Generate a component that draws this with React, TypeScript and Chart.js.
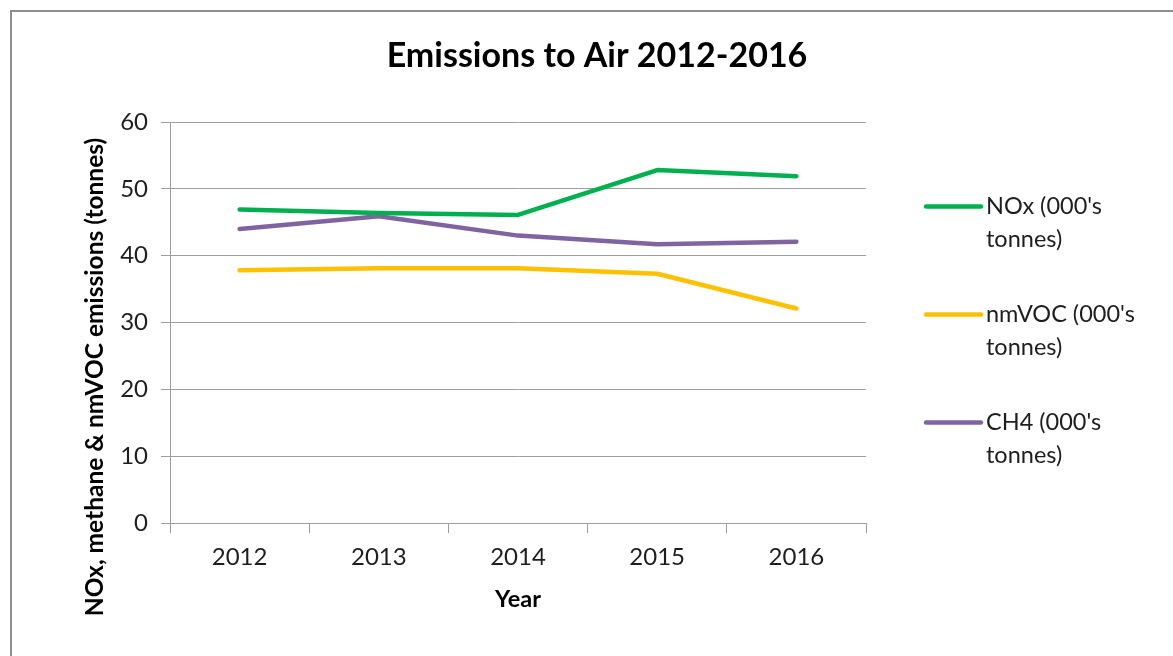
import { useEffect, useRef } from "react";
import { Chart, registerables } from "chart.js";

Chart.register(...registerables);

// Chart content
const chartTitle = "Emissions to Air 2012-2016";
const yAxisTitle = "NOx, methane & nmVOC emissions (tonnes)";
const xAxisTitle = "Year";

const years = ["2012", "2013", "2014", "2015", "2016"];
const noxValues = [46.9, 46.4, 46.1, 52.8, 51.9];
const nmvocValues = [37.8, 38.1, 38.1, 37.3, 32.1];
const ch4Values = [44.0, 45.9, 43.0, 41.7, 42.1];

const seriesLabels = [
  ["NOx (000's", "tonnes)"],
  ["nmVOC (000's", "tonnes)"],
  ["CH4 (000's", "tonnes)"],
];
const seriesColors = ["#00b050", "#ffc000", "#8064a2"];
const yTicks = [0, 10, 20, 30, 40, 50, 60];

const FONT = "Lato, Calibri, Carlito, 'Open Sans', sans-serif";
const GRID = "#9e9e9e";
const TEXT = "#1e1e1e";

// Draws the chart title, the rotated value-axis title and the two-line legend
const decorations = {
  id: "decorations",
  afterDraw(chart: any) {
    const { ctx, chartArea } = chart;
    ctx.save();

    // title
    ctx.fillStyle = "#000";
    ctx.font = `bold 34px ${FONT}`;
    ctx.textAlign = "center";
    ctx.textBaseline = "middle";
    ctx.fillText(chartTitle, chart.width / 2 + 10.5, 56);

    // value-axis title
    ctx.save();
    ctx.translate(95, 377);
    ctx.rotate(-Math.PI / 2);
    ctx.font = `bold 24.5px ${FONT}`;
    ctx.fillText(yAxisTitle, 0, 0);
    ctx.restore();

    // legend
    const midY = (chartArea.top + chartArea.bottom) / 2 - 8;
    const lineX0 = chartArea.right + 60;
    const lineX1 = chartArea.right + 115;
    const textX = chartArea.right + 120;
    chart.data.datasets.forEach((ds: any, i: number) => {
      const y = midY + (i - 1) * 108;
      ctx.strokeStyle = ds.borderColor;
      ctx.lineWidth = 4.5;
      ctx.lineCap = "round";
      ctx.beginPath();
      ctx.moveTo(lineX0, y);
      ctx.lineTo(lineX1, y);
      ctx.stroke();
      ctx.fillStyle = TEXT;
      ctx.font = `23.5px ${FONT}`;
      ctx.textAlign = "left";
      ctx.textBaseline = "middle";
      seriesLabels[i].forEach((line, j) => {
        ctx.fillText(line, textX, y + j * 33);
      });
    });

    ctx.restore();
  },
};

export default function App() {
  const canvasRef = useRef<HTMLCanvasElement | null>(null);

  useEffect(() => {
    const canvas = canvasRef.current;
    if (!canvas) return;
    const seriesValues = [noxValues, nmvocValues, ch4Values];

    const chart = new Chart(canvas, {
      type: "line",
      data: {
        labels: years,
        datasets: seriesValues.map((values, i) => ({
          label: seriesLabels[i].join(" "),
          data: values,
          borderColor: seriesColors[i],
          backgroundColor: seriesColors[i],
          borderWidth: 4.5,
          borderCapStyle: "round" as const,
          borderJoinStyle: "round" as const,
          pointRadius: 0,
          pointHoverRadius: 0,
          tension: 0,
          fill: false,
        })),
      },
      options: {
        animation: false,
        responsive: false,
        events: [],
        layout: { padding: { top: 122, right: 307, left: 0, bottom: 0 } },
        plugins: {
          legend: { display: false },
          title: { display: false },
          tooltip: { enabled: false },
        },
        scales: {
          x: {
            offset: true,
            grid: {
              offset: true,
              drawOnChartArea: false,
              drawTicks: true,
              tickLength: 10,
              color: GRID,
            },
            border: { display: true, color: GRID, width: 1 },
            ticks: {
              padding: 10,
              color: TEXT,
              font: { family: FONT, size: 24 },
              maxRotation: 0,
            },
            title: {
              display: true,
              text: xAxisTitle,
              color: "#000",
              font: { family: FONT, size: 23.5, weight: "bold" },
              padding: { top: 0, bottom: 42 },
            },
            afterFit: (scale: any) => {
              scale.height = 133;
            },
          },
          y: {
            min: 0,
            max: 60,
            afterBuildTicks: (scale: any) => {
              scale.ticks = yTicks.map((v) => ({ value: v }));
            },
            grid: {
              color: GRID,
              lineWidth: 1,
              drawTicks: true,
              tickLength: 9,
            },
            border: { display: true, color: GRID, width: 1 },
            ticks: {
              padding: 13,
              color: TEXT,
              font: { family: FONT, size: 24 },
            },
            afterFit: (scale: any) => {
              scale.width = 170;
            },
          },
        },
      },
      plugins: [decorations],
    });

    return () => chart.destroy();
  }, []);

  return (
    <div
      style={{
        position: "fixed",
        left: 0,
        top: 0,
        width: 1173,
        height: 656,
        overflow: "hidden",
        background: "#fff",
      }}
    >
      <div
        style={{
          position: "absolute",
          left: 10,
          top: 10,
          width: 1300,
          height: 800,
          border: "2px solid #8e8e8e",
          boxSizing: "border-box",
        }}
      />
      <canvas
        ref={canvasRef}
        width={1173}
        height={656}
        style={{ position: "absolute", left: 0, top: 0, width: 1173, height: 656 }}
      />
    </div>
  );
}
